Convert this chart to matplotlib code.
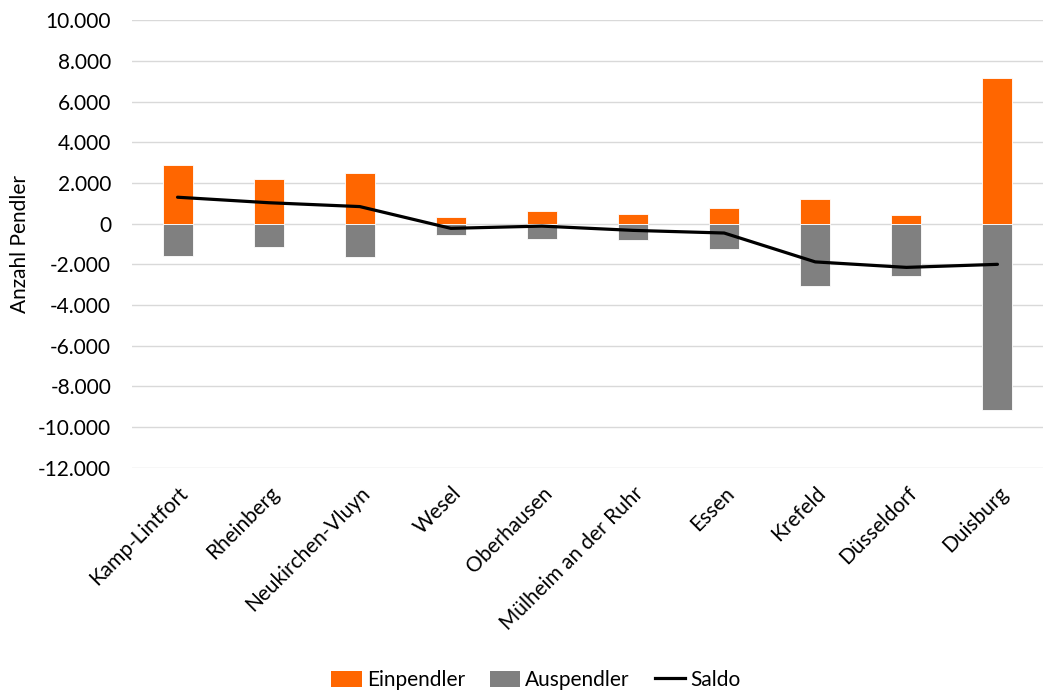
import matplotlib
matplotlib.use("Agg")
import matplotlib.pyplot as plt
from matplotlib.ticker import FuncFormatter, MultipleLocator
from matplotlib.patches import Patch
from matplotlib.lines import Line2D
import numpy as np

plt.rcParams['font.family'] = ['Lato', 'DejaVu Sans']

orte = ["Kamp-Lintfort", "Rheinberg", "Neukirchen-Vluyn", "Wesel", "Oberhausen",
        "Mülheim an der Ruhr", "Essen", "Krefeld", "Düsseldorf", "Duisburg"]
einpendler = [2900, 2180, 2480, 340, 620, 460, 790, 1200, 410, 7180]
auspendler = [-1600, -1150, -1640, -570, -740, -790, -1250, -3080, -2560, -9180]
saldo = [e + a for e, a in zip(einpendler, auspendler)]

ORANGE = "#FF6600"
GRAU = "#808080"
FS = 15

fig = plt.figure(figsize=(10.56, 6.92), dpi=100)
ax = fig.add_axes([132 / 1056, 1 - 467.7 / 692, (1043 - 132) / 1056, (467.7 - 20.3) / 692])

x = np.arange(len(orte))
ax.bar(x, einpendler, width=0.33, color=ORANGE, edgecolor="white", linewidth=0.6, zorder=2)
ax.bar(x, auspendler, width=0.33, color=GRAU, edgecolor="white", linewidth=0.6, zorder=2)
ax.plot(x, saldo, color="black", linewidth=2.3, zorder=3, solid_capstyle="round")

ax.set_xlim(-0.5, len(orte) - 0.5)
ax.set_ylim(-12000, 10000)
ax.yaxis.set_major_locator(MultipleLocator(2000))
ax.yaxis.set_major_formatter(FuncFormatter(lambda v, p: f"{int(v):,}".replace(",", ".")))
ax.grid(axis="y", color="#D9D9D9", linewidth=1.0, zorder=0)
ax.set_axisbelow(True)
for s in ax.spines.values():
    s.set_visible(False)
ax.tick_params(axis="both", length=0, labelsize=FS, colors="#000000")
ax.tick_params(axis="y", pad=15)
ax.set_xticks(x)
ax.set_xticklabels(orte, rotation=45, ha="right", rotation_mode="anchor")
ax.tick_params(axis="x", pad=11)
ax.set_ylabel("Anzahl Pendler", fontsize=FS)
ax.yaxis.set_label_coords((30 - 132) / 911, 0.5)

handles = [Patch(facecolor=ORANGE, edgecolor="none"),
           Patch(facecolor=GRAU, edgecolor="none"),
           Line2D([], [], color="black", linewidth=2.3)]
fig.legend(handles, ["Einpendler", "Auspendler", "Saldo"], loc="center",
           bbox_to_anchor=(536 / 1056, 1 - 680 / 692), ncol=3, frameon=False,
           fontsize=FS, handlelength=1.45, handleheight=0.8, columnspacing=1.2,
           handletextpad=0.25)

fig.savefig("out.png", dpi=100)
